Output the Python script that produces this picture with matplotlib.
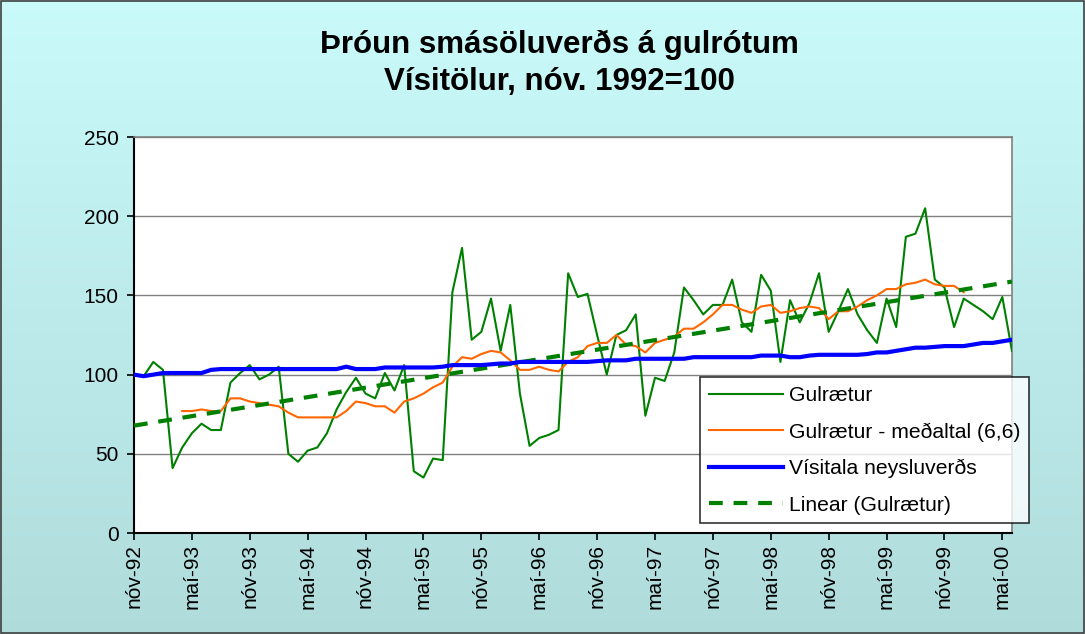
import numpy as np
import matplotlib
matplotlib.use("Agg")
import matplotlib.pyplot as plt
from matplotlib.patches import Rectangle

plt.rcParams['font.family'] = ['Liberation Sans', 'DejaVu Sans']

# Gögn lesin af myndinni (mánaðarleg, nóv-92 til jún-00)
gulraetur = [100, 99, 108, 103, 41, 54, 63, 69, 65, 65, 95, 101, 106, 97, 100, 105,
             50, 45, 52, 54, 63, 78, 89, 98, 88, 85, 101, 90, 106, 39, 35, 47,
             46, 152, 180, 122, 127, 148, 115, 144, 88, 55, 60, 62, 65, 164, 149, 151,
             125, 100, 125, 128, 138, 74, 98, 96, 114, 155, 147, 138, 144, 144, 160, 133,
             127, 163, 153, 108, 147, 133, 145, 164, 127, 140, 154, 138, 128, 120, 148, 130,
             187, 189, 205, 160, 155, 130, 148, 144, 140, 135, 149, 115]
medaltal_start = 5
medaltal = [77, 77, 78, 77, 77, 85, 85, 83, 82, 81, 80, 76, 73, 73, 73, 73, 73, 77, 83, 82,
            80, 80, 76, 83, 85, 88, 92, 95, 105, 111, 110, 113, 115, 114, 109, 103, 103, 105,
            103, 102, 108, 111, 118, 120, 120, 125, 119, 118, 114, 120, 122, 124, 129, 129,
            133, 138, 144, 144, 141, 139, 143, 144, 139, 140, 142, 143, 142, 135, 140, 140,
            143, 147, 150, 154, 154, 157, 158, 160, 157, 156, 156, 152]
visitala = [100, 99, 100, 101, 101, 101, 101, 101, 103, 103.5, 103.5, 103.5, 103.5, 103.5, 103.5, 103.5,
            103.5, 103.5, 103.5, 103.5, 103.5, 103.5, 105, 103.5, 103.5, 103.5, 104.5, 104.5, 104.5, 104.5, 104.5, 104.5,
            105, 106, 106, 106, 106, 106.5, 107, 107, 108, 108, 108, 108, 108, 108, 108, 108,
            108.5, 109, 109, 109, 110, 110, 110, 110, 110, 110, 111, 111, 111, 111, 111, 111,
            111, 112, 112, 112, 111, 111, 112, 112.5, 112.5, 112.5, 112.5, 112.5, 113, 114, 114, 115,
            116, 117, 117, 117.5, 118, 118, 118, 119, 120, 120, 121, 122]
tick_labels = ['nóv-92', 'maí-93', 'nóv-93', 'maí-94', 'nóv-94', 'maí-95', 'nóv-95', 'maí-96',
               'nóv-96', 'maí-97', 'nóv-97', 'maí-98', 'nóv-98', 'maí-99', 'nóv-99', 'maí-00']

x = np.arange(len(gulraetur))
x_med = np.arange(medaltal_start, medaltal_start + len(medaltal))
# Línuleg leitni (eins og í Excel)
coef = np.polyfit(x, gulraetur, 1)
trend = np.polyval(coef, x)

fig = plt.figure(figsize=(10.85, 6.34), dpi=100)

# bakgrunnur með litaskiptingu
bg = fig.add_axes([0, 0, 1, 1], zorder=-10)
grad = np.linspace(0, 1, 256)[:, None]
top = np.array([0.79, 0.98, 0.98])
bot = np.array([0.69, 0.86, 0.86])
img = top[None, None, :] * (1 - grad[:, :, None]) + bot[None, None, :] * grad[:, :, None]
bg.imshow(img, aspect='auto', extent=[0, 1, 0, 1])
bg.set_axis_off()
fig.patches.append(Rectangle((0.001, 0.001), 0.998, 0.997, transform=fig.transFigure,
                             fill=False, edgecolor='#404040', lw=1.2))

ax = fig.add_axes([0.1235, 0.1593, 0.8092, 0.6246])
ax.set_facecolor('white')

ax.plot(x, gulraetur, color='#008000', lw=1.5, label='Gulrætur', zorder=3)
ax.plot(x_med, medaltal, color='#FF6600', lw=1.5, label='Gulrætur - meðaltal (6,6)', zorder=4)
ax.plot(x, visitala, color='#0000FF', lw=3, label='Vísitala neysluverðs', zorder=5)
ax.plot(x, trend, color='#008000', lw=3, ls=(0, (3.3, 2.6)), label='Linear (Gulrætur)', zorder=4)

ax.set_xlim(0, len(gulraetur) - 1)
ax.set_ylim(0, 250)
ax.set_yticks(np.arange(0, 251, 50))
ax.set_xticks(np.arange(0, len(tick_labels) * 6, 6))
ax.set_xticklabels(tick_labels, rotation=90)
ax.tick_params(axis='both', labelsize=15, length=5, width=1.2, color='black', direction='out')
ax.tick_params(axis='y', pad=6)
ax.tick_params(axis='x', pad=3)
ax.yaxis.grid(True, color='#808080', lw=1)
ax.set_axisbelow(True)
for s in ['top', 'right']:
    ax.spines[s].set_color('#808080')
    ax.spines[s].set_linewidth(1.2)
for s in ['left', 'bottom']:
    ax.spines[s].set_color('black')
    ax.spines[s].set_linewidth(1.5)

leg = ax.legend(loc='upper left', bbox_to_anchor=(0.645, 0.405), bbox_transform=fig.transFigure,
                fontsize=15.2, frameon=True, fancybox=False, handlelength=3.5, handletextpad=0.3,
                labelspacing=0.82, borderpad=0.42, borderaxespad=0)
leg.get_frame().set_edgecolor('black')
leg.get_frame().set_linewidth(1.2)
leg.set_zorder(10)

fig.text(0.516, 0.929, 'Þróun smásöluverðs á gulrótum', ha='center', va='center',
         fontsize=22.5, fontweight='bold')
fig.text(0.516, 0.870, 'Vísitölur, nóv. 1992=100', ha='center', va='center',
         fontsize=22.5, fontweight='bold')

fig.savefig('out.png', dpi=100)
